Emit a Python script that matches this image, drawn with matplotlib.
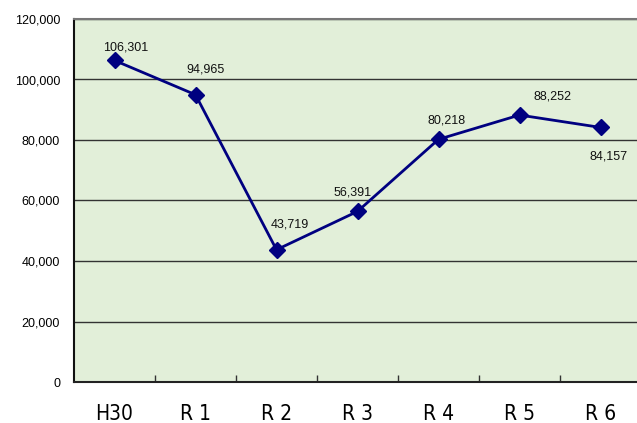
import matplotlib.pyplot as plt
import numpy as np

years = ["H30", "R 1", "R 2", "R 3", "R 4", "R 5", "R 6"]
counts = [106301, 94965, 43719, 56391, 80218, 88252, 84157]
# label offsets in pixels (dx, dy) relative to each point
label_off = [(11, 13), (10, 25), (13, 25), (-5, 19), (8, 19), (33, 19), (8, -29)]

fig = plt.figure(figsize=(6.37, 4.23), dpi=100)
ax = fig.add_axes([74 / 637, 1 - 382 / 423, 567 / 637, 363 / 423])
ax.set_facecolor("#E2EFD9")

x = np.arange(len(years))
ax.plot(x, counts, color="#000080", lw=2, marker="D", markersize=8, zorder=3)

for i, v in enumerate(counts):
    dx, dy = label_off[i]
    ax.annotate(f"{v:,}", (x[i], v), xytext=(dx * 0.72, dy * 0.72), textcoords="offset points",
                ha="center", va="center", fontsize=9, family="Liberation Sans", color="#111111")

ax.set_xlim(-0.5, len(years) - 0.5)
ax.set_ylim(0, 120000)
ax.set_yticks(np.arange(0, 120001, 20000))
ax.set_yticklabels([f"{t:,}" for t in range(0, 120001, 20000)], family="Liberation Sans", fontsize=9)
ax.yaxis.grid(True, color="#333333", lw=1)
ax.set_axisbelow(True)
ax.tick_params(axis="y", length=0, pad=10)

ax.set_xticks(x)
ax.set_xticklabels(years, fontsize=15, family=["DejaVu Sans"], fontstretch="condensed")
ax.tick_params(axis="x", which="major", length=0, pad=16)
ax.set_xticks(np.arange(0.5, len(years) - 1, 1), minor=True)
ax.tick_params(axis="x", which="minor", direction="in", length=5, width=1, color="#333333")

ax.spines["left"].set_color("#111111")
ax.spines["left"].set_linewidth(1.5)
ax.spines["bottom"].set_color("#222222")
ax.spines["bottom"].set_linewidth(1.5)
ax.spines["top"].set_color("#777777")
ax.spines["top"].set_linewidth(1.5)
ax.spines["right"].set_visible(False)

fig.savefig("out.png", dpi=100)
